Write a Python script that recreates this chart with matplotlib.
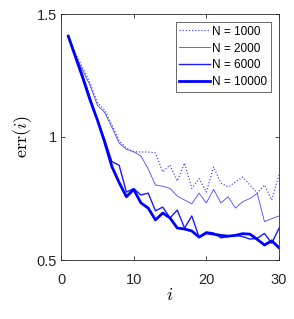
import numpy as np
import matplotlib
matplotlib.use('Agg')
import matplotlib.pyplot as plt

plt.rcParams['font.family'] = ['Liberation Sans', 'DejaVu Sans']
plt.rcParams['mathtext.fontset'] = 'cm'

# iteration index
it = np.arange(1, 31)

# error curves
err1000 = [1.41, 1.34, 1.28, 1.22, 1.14, 1.11, 1.05, 0.985, 0.955, 0.94,
           0.939, 0.939, 0.935, 0.858, 0.886, 0.821, 0.894, 0.791, 0.831, 0.776,
           0.878, 0.813, 0.797, 0.817, 0.837, 0.805, 0.772, 0.805, 0.744, 0.846]
err2000 = [1.41, 1.33, 1.27, 1.21, 1.13, 1.10, 1.04, 0.975, 0.95, 0.94,
           0.923, 0.87, 0.805, 0.80, 0.791, 0.76, 0.744, 0.728, 0.772, 0.732,
           0.787, 0.732, 0.757, 0.711, 0.737, 0.75, 0.771, 0.656, 0.668, 0.679]
err6000 = [1.41, 1.33, 1.25, 1.16, 1.07, 0.99, 0.90, 0.885, 0.776, 0.79,
           0.764, 0.772, 0.70, 0.715, 0.671, 0.703, 0.63, 0.679, 0.593, 0.614,
           0.61, 0.59, 0.595, 0.60, 0.595, 0.585, 0.588, 0.608, 0.568, 0.629]
err10000 = [1.41, 1.325, 1.24, 1.15, 1.07, 0.98, 0.88, 0.815, 0.757, 0.787,
            0.732, 0.711, 0.663, 0.691, 0.671, 0.630, 0.626, 0.618, 0.593, 0.610,
            0.605, 0.60, 0.597, 0.60, 0.607, 0.605, 0.584, 0.561, 0.578, 0.55]

fig = plt.figure(figsize=(2.94, 3.19), dpi=100)
ax = fig.add_axes([61 / 294, 1 - 260 / 319, 218 / 294, 246 / 319])

ax.plot(it, err1000, ':', color='#3a3aff', lw=0.85, label='N = 1000')
ax.plot(it, err2000, '-', color='#4848ff', lw=0.6, label='N = 2000')
ax.plot(it, err6000, '-', color='#1a1aff', lw=1.0, label='N = 6000')
ax.plot(it, err10000, '-', color='#0000ff', lw=2.0, label='N = 10000')

ax.set_xlim(0, 30)
ax.set_ylim(0.5, 1.5)
ax.set_xticks([0, 10, 20, 30])
ax.set_yticks([0.5, 1, 1.5])
ax.set_yticklabels(['0.5', '1', '1.5'])
ax.tick_params(direction='in', top=True, right=True, length=3, width=0.6,
               labelsize=10.5, colors='#262626', pad=3)
ax.tick_params(axis='x', pad=9.5)
for s in ax.spines.values():
    s.set_color('#262626')
    s.set_linewidth(0.6)

ax.set_xlabel('$i$', fontsize=13, labelpad=0)
ax.set_ylabel(r'$\mathrm{err}(i)$', fontsize=13, labelpad=2)

leg = ax.legend(loc='upper right', fontsize=8.5, frameon=True, fancybox=False,
                borderpad=0.3, labelspacing=0.42, handlelength=2.6,
                handletextpad=0.2, borderaxespad=0.68)
leg.get_frame().set_edgecolor('#262626')
leg.get_frame().set_linewidth(0.6)

fig.savefig('out.png', dpi=100)
